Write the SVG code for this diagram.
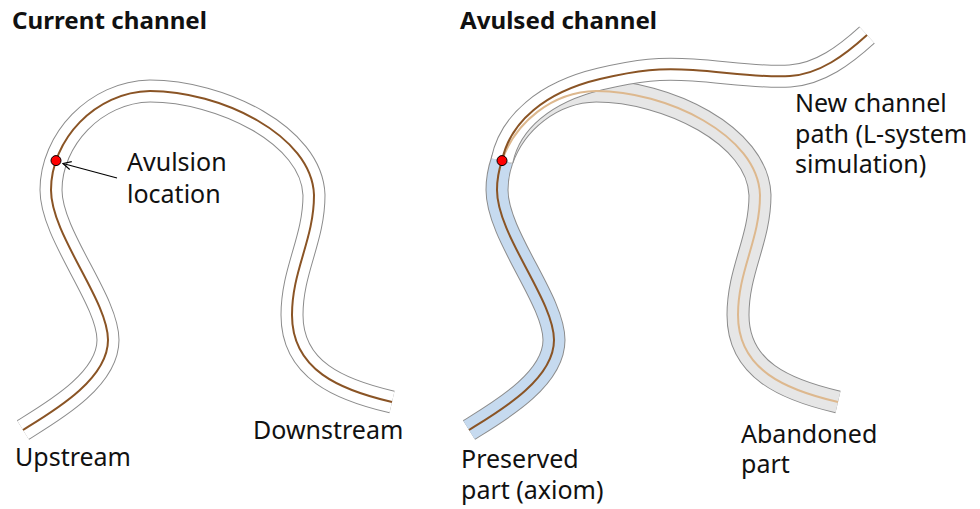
<svg xmlns="http://www.w3.org/2000/svg" width="980" height="509" viewBox="0 0 980 509">
<style>
text{font-family:"Noto Sans","Open Sans","DejaVu Sans",sans-serif;font-size:25px;fill:#111}
.title{font-weight:bold;font-size:24px}
.edge{fill:none;stroke:#8c8c8c;stroke-width:23}
.band{fill:none;stroke-width:21}
.white{stroke:#fff}
.blue{stroke:#c6daef}
.grey{stroke:#e6e6e6}
.cl{fill:none;stroke:#8a5425;stroke-width:2}
.tan{fill:none;stroke:#ddb88e;stroke-width:2}
.dot{fill:#f00;stroke:#000;stroke-width:1}
</style>
<defs>
<path id="full" d="M 23 430 C 52 412, 108 380, 108 340 C 108 300, 51 235, 51 190 C 51 140, 95 92, 150 91 C 220 91, 312 135, 314 195 C 314 240, 292 270, 292 315 C 292 370, 340 390, 392 402"/>
<path id="pre" d="M 23 430 C 52 412, 108 380, 108 340 C 108 300, 51 235, 51 190 C 51 180, 52.76 170.08, 56.02 160.6"/>
<path id="aband" d="M 56.02 160.6 C 69.04 122.68, 106 91.8, 150 91 C 220 91, 312 135, 314 195 C 314 240, 292 270, 292 315 C 292 370, 340 390, 392 402"/>
<path id="newp" d="M 502.02 160.6 C 510 122, 545 92, 600 79 C 640 69.5, 660 68, 693 70 C 726 72, 760 78, 790 76 C 820 74, 845 55, 867 35"/>
<marker id="arr" markerWidth="10" markerHeight="10" refX="9" refY="5" orient="auto" markerUnits="userSpaceOnUse">
<path d="M1,1 L9,5 L1,9" fill="none" stroke="#000" stroke-width="1.2"/>
</marker>
</defs>

<g id="title-current"><text class="title" x="12" y="29" textLength="195" lengthAdjust="spacingAndGlyphs">Current channel</text></g>
<g id="title-avulsed"><text class="title" x="460" y="29" textLength="197" lengthAdjust="spacingAndGlyphs">Avulsed channel</text></g>

<g id="current-channel">
<use href="#full" class="edge"/>
<use href="#full" class="band white"/>
<use href="#full" class="cl"/>
</g>

<g id="abandoned-part">
<use href="#aband" class="edge" transform="translate(446,0)"/>
<use href="#aband" class="band grey" transform="translate(446,0)"/>
</g>
<g id="preserved-part">
<use href="#pre" class="edge" transform="translate(446,0)"/>
<use href="#pre" class="band blue" transform="translate(446,0)"/>
<use href="#pre" class="cl" transform="translate(446,0)"/>
</g>
<g id="new-channel">
<use href="#newp" class="edge"/>
<use href="#newp" class="band white"/>
</g>
<g id="abandoned-centerline">
<use href="#aband" class="tan" transform="translate(446,0)"/>
</g>
<g id="new-centerline">
<use href="#newp" class="cl"/>
</g>

<g id="avulsion-point-left"><circle class="dot" cx="56" cy="160.6" r="5"/></g>
<g id="avulsion-point-right"><circle class="dot" cx="502" cy="160.6" r="5"/></g>

<g id="connectors">
<line x1="117" y1="178" x2="63" y2="163.5" stroke="#000" stroke-width="1.2" marker-end="url(#arr)"/>
</g>

<g id="label-avulsion"><text x="127" y="171">Avulsion</text><text x="127" y="203">location</text></g>
<g id="label-upstream"><text x="15" y="466">Upstream</text></g>
<g id="label-downstream"><text x="253" y="439">Downstream</text></g>
<g id="label-new"><text x="795" y="112">New channel</text><text x="795" y="143">path (L-system</text><text x="795" y="173">simulation)</text></g>
<g id="label-preserved"><text x="461" y="468">Preserved</text><text x="461" y="499">part (axiom)</text></g>
<g id="label-abandoned"><text x="741" y="443">Abandoned</text><text x="741" y="473">part</text></g>
</svg>
